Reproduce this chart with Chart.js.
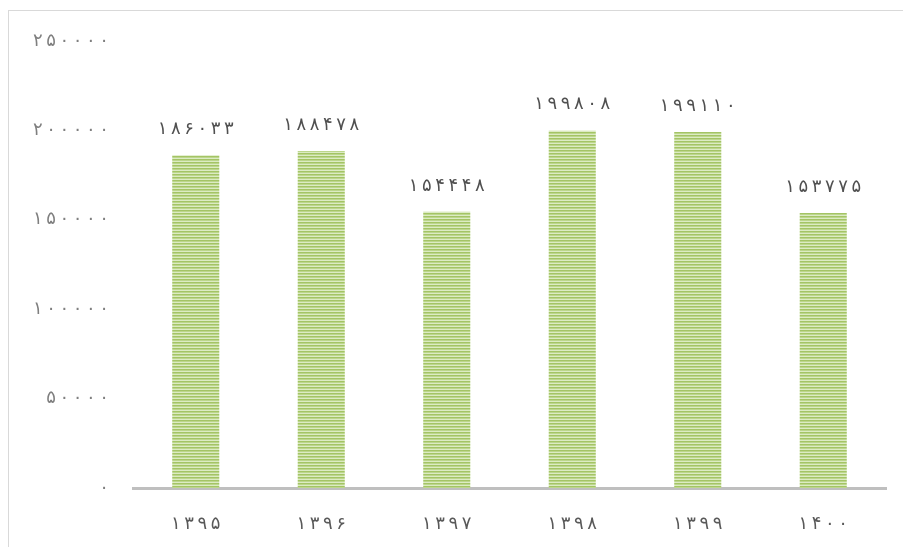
<!DOCTYPE html>
<html>
<head>
<meta charset="utf-8">
<script src="https://cdn.jsdelivr.net/npm/chart.js@4"></script>
<style>
    body { margin: 0; background: #fff; }
    #wrap { position: relative; width: 903px; height: 549px; }
    #frame {
        position: absolute; left: 8px; top: 10px; right: 0; bottom: 2px;
        border-left: 1px solid #d9d9d9; border-top: 1px solid #d9d9d9;
    }
    canvas { position: absolute; left: 0; top: 0; }
</style>
</head>
<body>
<div id="wrap">
    <div id="frame"></div>
    <canvas id="chart" width="903" height="549"></canvas>
</div>
<script>
const years = ["۱۳۹۵", "۱۳۹۶", "۱۳۹۷", "۱۳۹۸", "۱۳۹۹", "۱۴۰۰"];
const totals = [186033, 188478, 154448, 199808, 199110, 153775];
const yMax = 250000;
const yStep = 50000;

const faDigits = "۰۱۲۳۴۵۶۷۸۹";
// persian digits, spread with thin spaces since the original font is wider
function toFa(n) {
    return String(n).replace(/[0-9]/g, d => faDigits[d]).split("").join("\u2009");
}

// striped fill like the excel pattern
function stripes() {
    const c = document.createElement("canvas");
    c.width = 4;
    c.height = 3;
    const g = c.getContext("2d");
    g.fillStyle = "#a4c465"; g.fillRect(0, 0, 4, 1);
    g.fillStyle = "#bcd68c"; g.fillRect(0, 1, 4, 1);
    g.fillStyle = "#dcebc3"; g.fillRect(0, 2, 4, 1);
    return g.createPattern(c, "repeat");
}

const fontFamily = "'DejaVu Sans', sans-serif";

const valueLabels = {
    id: "valueLabels",
    afterDatasetsDraw(chart) {
        const ctx = chart.ctx;
        ctx.save();
        ctx.font = "18px " + fontFamily;
        ctx.fillStyle = "#505050";
        ctx.textAlign = "center";
        ctx.textBaseline = "bottom";
        chart.getDatasetMeta(0).data.forEach((bar, i) => {
            ctx.fillText(toFa(totals[i]), bar.x, bar.y - 17);
        });
        ctx.restore();
    }
};

const ctx = document.getElementById("chart").getContext("2d");
new Chart(ctx, {
    type: "bar",
    data: {
        labels: years,
        datasets: [{
            data: totals,
            backgroundColor: stripes(),
            borderWidth: 0,
            barPercentage: 0.375,
            categoryPercentage: 1
        }]
    },
    options: {
        responsive: false,
        animation: false,
        layout: { padding: { top: 41, right: 17, left: 0, bottom: 0 } },
        plugins: {
            legend: { display: false },
            tooltip: { enabled: false }
        },
        scales: {
            x: {
                grid: { display: false, drawTicks: false },
                border: { display: true, color: "#bfbfbf", width: 3 },
                ticks: {
                    padding: 26,
                    color: "#595959",
                    font: { family: fontFamily, size: 18 },
                    callback: (v, i) => years[i].split("").join("\u2009")
                },
                afterFit: (s) => { s.height = 61; }
            },
            y: {
                min: 0,
                max: yMax,
                grid: { display: false, drawTicks: false },
                border: { display: false },
                ticks: {
                    stepSize: yStep,
                    padding: 24,
                    color: "#7f7f7f",
                    font: { family: fontFamily, size: 18 },
                    callback: (v) => toFa(v)
                },
                afterFit: (s) => { s.width = 133; }
            }
        }
    },
    plugins: [valueLabels]
});
</script>
</body>
</html>
